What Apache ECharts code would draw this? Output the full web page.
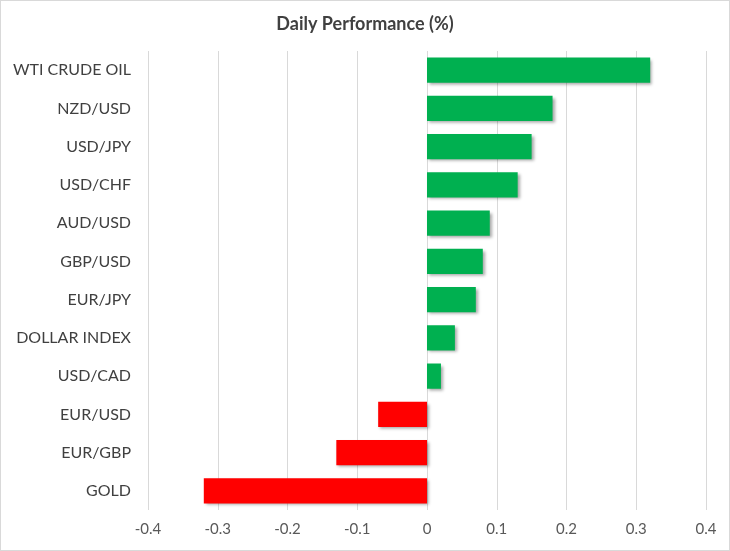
<!DOCTYPE html>
<html>
<head>
<meta charset="utf-8">
<script src="https://cdn.jsdelivr.net/npm/echarts@6/dist/echarts.min.js"></script>
<style>
  html, body { margin: 0; padding: 0; background: #fff; }
  #chart { width: 728px; height: 549px; border: 1px solid #d9d9d9; }
</style>
</head>
<body>
<div id="chart"></div>
<script>
// bottom-to-top order (ECharts category axis starts at the bottom)
const categories = ['GOLD', 'EUR/GBP', 'EUR/USD', 'USD/CAD', 'DOLLAR INDEX', 'EUR/JPY',
  'GBP/USD', 'AUD/USD', 'USD/CHF', 'USD/JPY', 'NZD/USD', 'WTI CRUDE OIL'];
const values = [-0.32, -0.13, -0.07, 0.02, 0.04, 0.07, 0.08, 0.09, 0.13, 0.15, 0.18, 0.32];
const xTicks = [-0.4, -0.3, -0.2, -0.1, 0, 0.1, 0.2, 0.3, 0.4];

const UP = '#00b050';
const DOWN = '#ff0000';
const FONT = 'Lato, "Open Sans", sans-serif';

const chart = echarts.init(document.getElementById('chart'), null, { renderer: 'canvas' });
chart.setOption({
  animation: false,
  title: {
    text: 'Daily Performance (%)',
    left: 'center',
    top: 9,
    textStyle: { fontFamily: FONT, fontSize: 18, fontWeight: 'bold', color: '#404040' }
  },
  grid: { left: 147, right: 23, top: 50, bottom: 40 },
  xAxis: {
    type: 'value',
    min: xTicks[0],
    max: xTicks[xTicks.length - 1],
    interval: 0.1,
    axisLine: { show: false },
    axisTick: { show: false },
    axisLabel: {
      fontFamily: FONT, fontSize: 15, color: '#595959', margin: 12,
      formatter: v => String(Math.round(v * 10) / 10)
    },
    splitLine: { lineStyle: { color: '#d9d9d9', width: 1 } }
  },
  yAxis: {
    type: 'category',
    data: categories,
    axisLine: { show: false },
    axisTick: { show: false },
    axisLabel: { fontFamily: FONT, fontSize: 16, color: '#404040', margin: 17 }
  },
  series: [{
    type: 'bar',
    data: values.map(v => ({
      value: v,
      itemStyle: { color: v >= 0 ? UP : DOWN }
    })),
    barCategoryGap: '34%',
    itemStyle: {
      shadowColor: 'rgba(0,0,0,0.35)',
      shadowBlur: 3,
      shadowOffsetX: 2,
      shadowOffsetY: 2
    }
  }]
});
</script>
</body>
</html>
